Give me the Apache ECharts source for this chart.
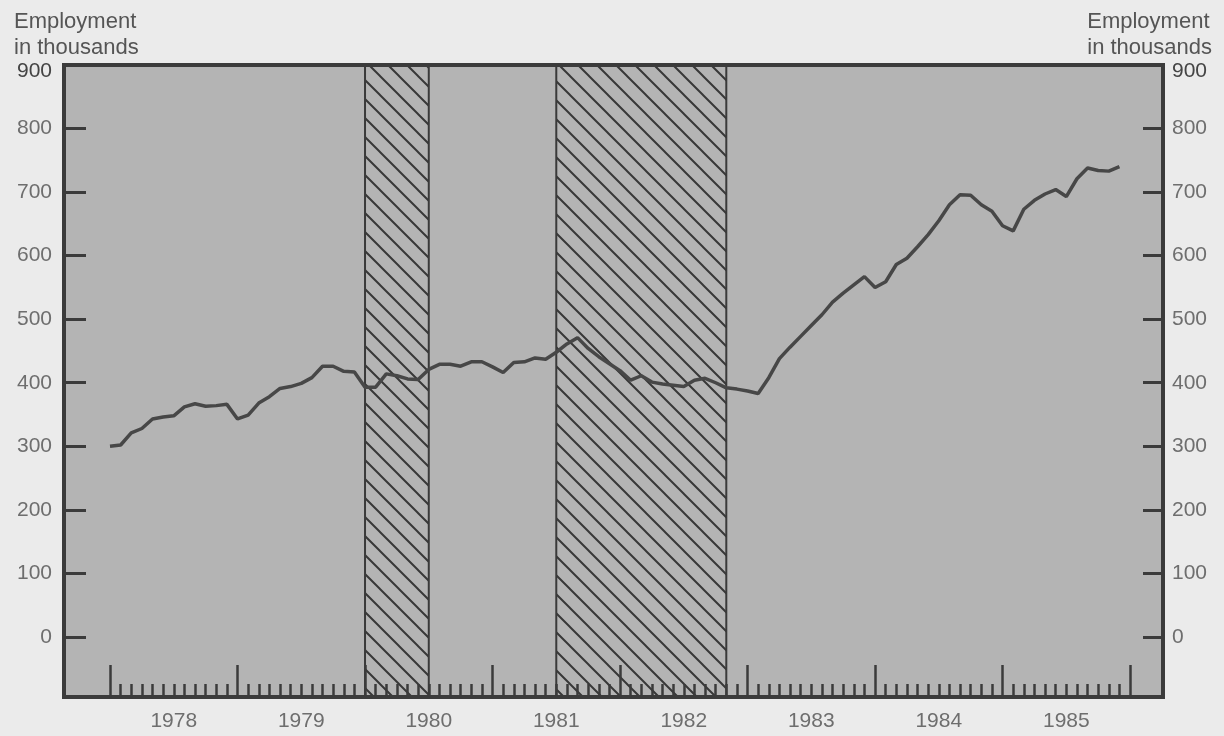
<!DOCTYPE html>
<html><head><meta charset="utf-8">
<script src="https://cdn.jsdelivr.net/npm/echarts@6/dist/echarts.min.js"></script>
<style>html,body{margin:0;padding:0;background:#ebebeb;}#c{width:1224px;height:736px;}</style>
</head><body><div id="c"></div>
<script>
// ---- data ----
const firstYear = 1978;
const yearLabels = ['1978','1979','1980','1981','1982','1983','1984','1985'];
// monthly employment (thousands), Jan 1978 - Dec 1985
const employment = [
  300,302,321,328,343,346,348,362,367,363,364,366,   // 1978
  343,349,368,378,391,394,399,408,426,426,418,417,   // 1979
  393,393,414,411,406,405,421,429,429,426,433,433,   // 1980
  425,416,432,433,439,437,448,461,471,454,441,430,   // 1981
  419,404,411,401,398,396,394,404,407,400,392,390,   // 1982
  387,383,408,438,456,473,490,507,527,541,554,567,   // 1983
  550,559,586,596,614,633,655,680,696,695,680,670,   // 1984
  647,639,673,687,697,704,693,721,738,734,733,740    // 1985
];
const yTicks = [0,100,200,300,400,500,600,700,800,900];
const recessions = [['1980-01','1980-07'],['1981-07','1982-11']];
const axisTitle = 'Employment\nin thousands';

function monthIndex(s){const p=s.split('-').map(Number);return (p[0]-firstYear)*12+(p[1]-1);}
const nMonths = yearLabels.length*12;
const majorTicks = []; for(let i=0;i<=nMonths;i+=12) majorTicks.push(i);
const minorTicks = []; for(let i=1;i<nMonths;i++) if(i%12) minorTicks.push(i);
const labelPos = yearLabels.map((_,k)=>k*12+6);
const lineData = employment.map((v,i)=>[i,v]);

// hatch pattern
const tile = 19;
const cv = document.createElement('canvas'); cv.width=tile; cv.height=tile;
const g = cv.getContext('2d');
g.strokeStyle='#383838'; g.lineWidth=2;
g.beginPath();
g.moveTo(-2,-2); g.lineTo(tile+2,tile+2);
g.moveTo(-2,tile-2); g.lineTo(2,tile+2);
g.moveTo(tile-2,-2); g.lineTo(tile+2,2);
g.stroke();

const FONT = 'Liberation Sans';
const LBL = '#6e6e6e';
const frame = {color:'#3b3b3b', width:4};
const XMIN = -4.33, XMAX = 99.1, YMIN = -94.5, YMAX = 900;
const rich900 = {d:{fontFamily:FONT,fontSize:21,color:'#444',padding:[12,0,0,0]}};

const chart = echarts.init(document.getElementById('c'), null, {renderer:'canvas'});
chart.setOption({
  backgroundColor:'#ebebeb',
  animation:false,
  title:[
    {text:axisTitle, left:9, top:4, textStyle:{fontFamily:FONT,fontSize:22,fontWeight:'normal',color:'#555',lineHeight:26}},
    {text:axisTitle, right:7, top:4, textStyle:{fontFamily:FONT,fontSize:22,fontWeight:'normal',color:'#555',lineHeight:26}}
  ],
  grid:{left:64,right:61,top:65,bottom:39,show:true,backgroundColor:'#b4b4b4',borderColor:frame.color,borderWidth:4},
  xAxis:[
    {type:'value',min:XMIN,max:XMAX,position:'bottom',z:10,
     axisLine:{show:true,onZero:false,lineStyle:frame},
     axisTick:{show:true,inside:true,length:32,customValues:majorTicks,lineStyle:{color:'#3b3b3b',width:2.5}},
     axisLabel:{show:true,customValues:labelPos,margin:14,fontFamily:FONT,fontSize:21,color:LBL,
       formatter:v=>yearLabels[Math.round((v-6)/12)]},
     splitLine:{show:false}},
    {type:'value',min:XMIN,max:XMAX,position:'bottom',z:10,
     axisLine:{show:false,onZero:false},
     axisTick:{show:true,inside:true,length:13,customValues:minorTicks,lineStyle:{color:'#3b3b3b',width:2.5}},
     axisLabel:{show:false},splitLine:{show:false}},
    {type:'value',min:XMIN,max:XMAX,position:'top',z:10,
     axisLine:{show:true,onZero:false,lineStyle:frame},axisTick:{show:false},axisLabel:{show:false},splitLine:{show:false}}
  ],
  yAxis:[
    {type:'value',min:YMIN,max:YMAX,position:'left',z:10,
     axisLine:{show:true,onZero:false,lineStyle:frame},
     axisTick:{show:true,inside:true,length:22,customValues:yTicks,lineStyle:{color:'#3b3b3b',width:3}},
     axisLabel:{show:true,customValues:yTicks,margin:12,fontFamily:FONT,fontSize:21,color:LBL,
       formatter:v=> v===900?'{d|900}':String(v), rich:rich900},
     splitLine:{show:false}},
    {type:'value',min:YMIN,max:YMAX,position:'right',z:10,
     axisLine:{show:true,onZero:false,lineStyle:frame},
     axisTick:{show:true,inside:true,length:20,customValues:yTicks,lineStyle:{color:'#3b3b3b',width:3}},
     axisLabel:{show:true,customValues:yTicks,margin:9,fontFamily:FONT,fontSize:21,color:LBL,
       formatter:v=> v===900?'{d|900}':String(v), rich:rich900},
     splitLine:{show:false}}
  ],
  series:[{
    type:'line', xAxisIndex:0, yAxisIndex:0, data:lineData, showSymbol:false, symbol:'none',
    lineStyle:{color:'#474747',width:3.5}, z:3,
    markArea:{silent:true,
      itemStyle:{color:{image:cv,repeat:'repeat'},borderColor:'#3a3a3a',borderWidth:2},
      data:recessions.map(r=>[{xAxis:monthIndex(r[0])},{xAxis:monthIndex(r[1])}])}
  }]
});
</script></body></html>
